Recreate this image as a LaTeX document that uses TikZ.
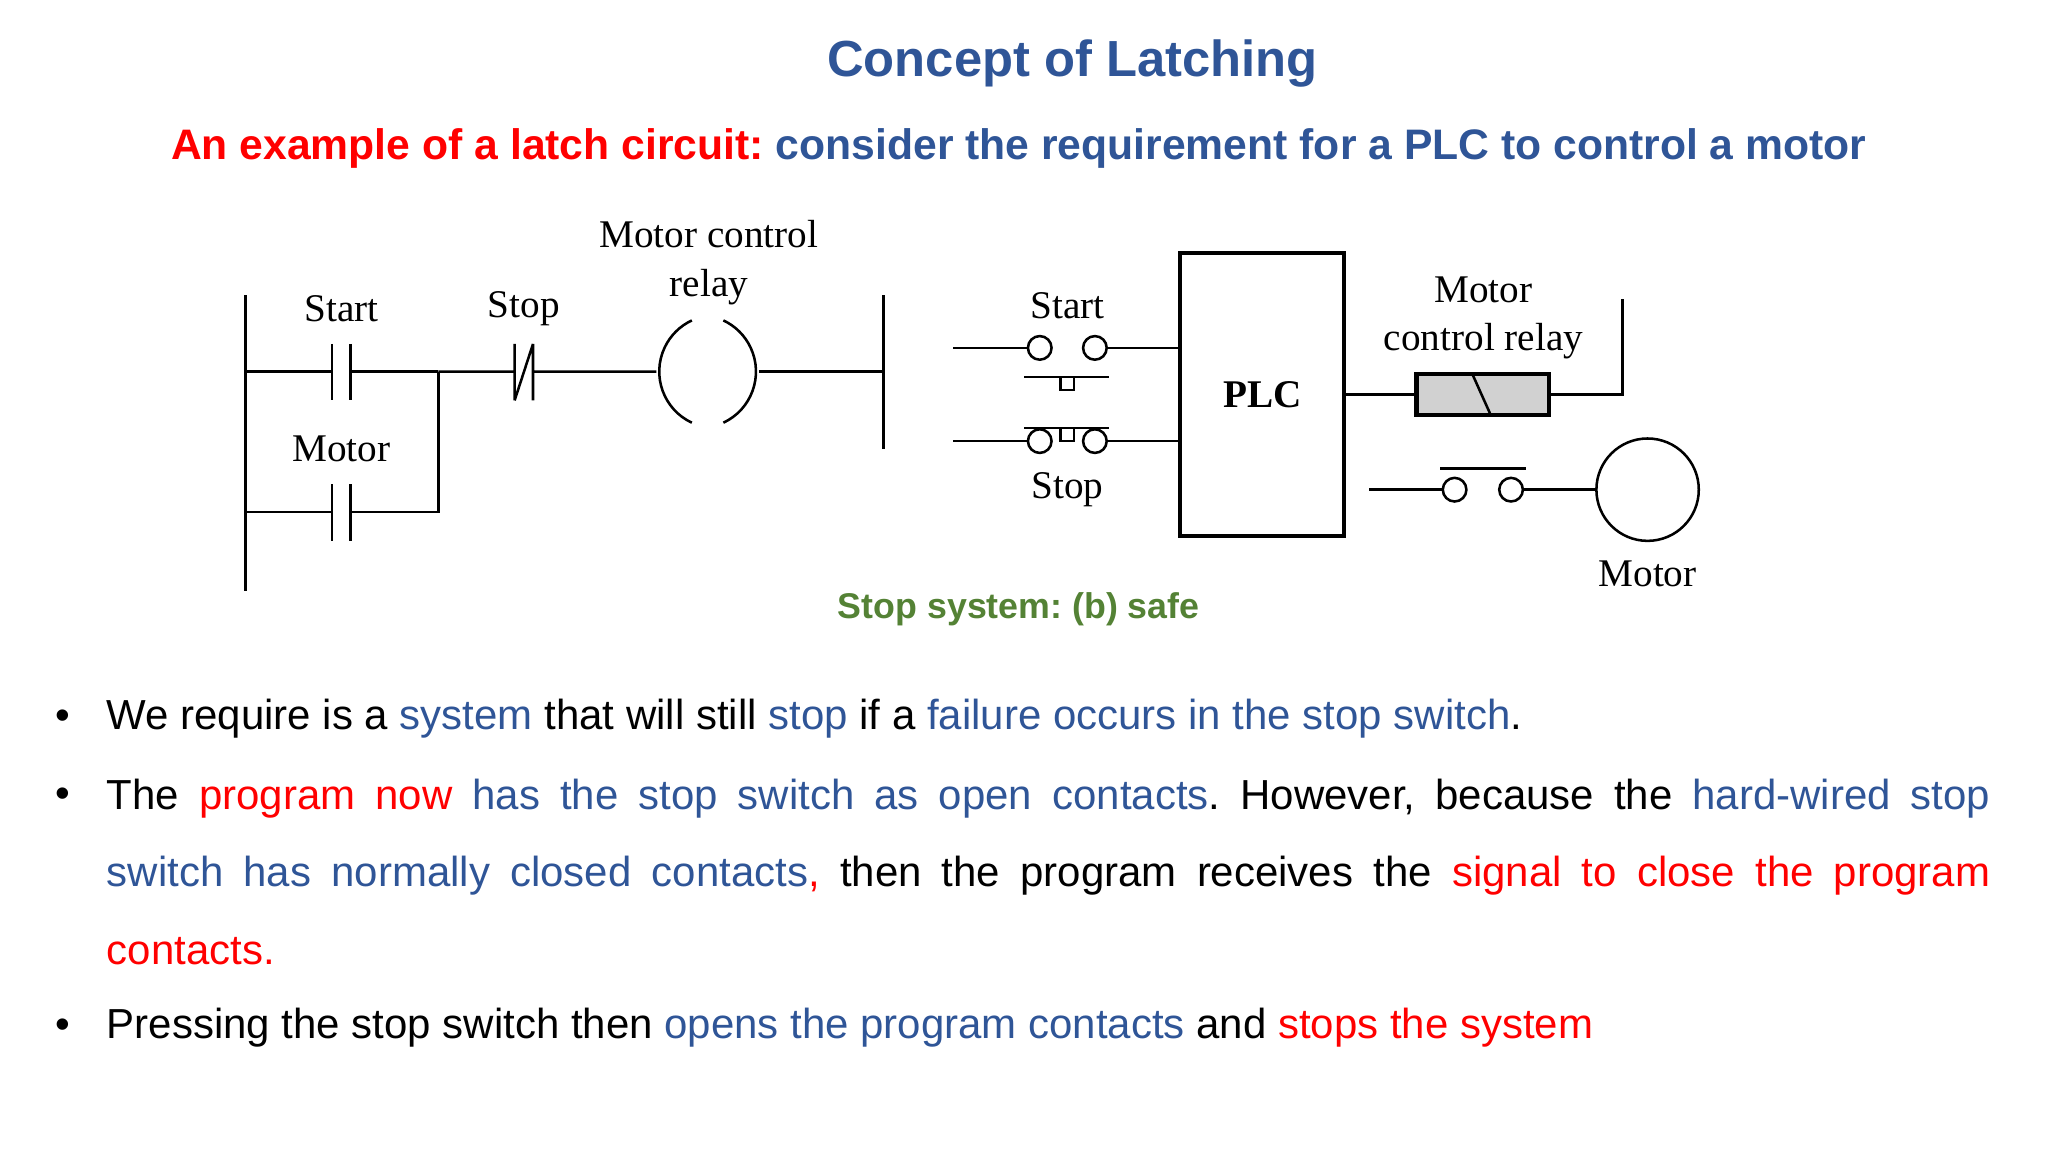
\documentclass[tikz,border=0pt]{standalone}
\usepackage{fontspec}
\setmainfont{Liberation Sans}
\newfontfamily\diagfont{Liberation Serif}
\definecolor{slideblue}{RGB}{47,85,151}
\definecolor{slidegreen}{RGB}{84,130,53}
\frenchspacing
\tikzset{
  wire/.style={line width=1.1pt},
  lbl/.style={font=\diagfont\fontsize{17}{19}\selectfont, inner sep=0pt},
  term/.style={circle, draw, line width=1.1pt, minimum size=0.36cm, inner sep=0pt},
  body/.style={font=\fontsize{18.2}{33.6}\selectfont, inner sep=0pt, anchor=base west}
}
\begin{document}
\begin{tikzpicture}[x=0.02cm, y=-0.02cm]
    \useasboundingbox (0,0) rectangle (1560,878);

    % titres
    \node[text=slideblue, font=\bfseries\fontsize{22}{26}\selectfont] (title) at (817,48) {Concept of Latching};
    \node[font=\bfseries\fontsize{18.5}{22}\selectfont] (sub) at (776,113)
        {\textcolor{red}{An example of a latch circuit:} \textcolor{slideblue}{consider the requirement for a PLC to control a motor}};

    % schema a contacts
    \coordinate (lrtop) at (187,225); \coordinate (lrbot) at (187,450);
    \coordinate (rrtop) at (673,225); \coordinate (rrbot) at (673,342);
    \coordinate (r1) at (187,283); \coordinate (r2) at (187,390);
    \coordinate (jn) at (334,283); \coordinate (jb) at (334,390);
    \coordinate (rr1) at (673,283);
    \draw[wire] (lrtop) -- (lrbot);
    \draw[wire] (rrtop) -- (rrbot);
    % contact start
    \draw[wire] (r1) -- (253,283) (253,262) -- (253,305) (267,262) -- (267,305) (267,283) -- (jn);
    % contact moteur
    \draw[wire] (r2) -- (253,390) (253,369) -- (253,412) (267,369) -- (267,412) (267,390) -- (jb) -- (jn);
    % contact stop
    \draw[wire] (jn) -- (392,283) (392,262) -- (392,305) (406,262) -- (406,305) (392,305) -- (406,262) (406,283) -- (500,283);
    % bobine
    \draw[wire] (527,322) arc (115:245:43) (551,322) arc (65:-65:43);
    \draw[wire] (578,283) -- (rr1);
    \node[lbl] (lstart) at (260,235) {Start};
    \node[lbl] (lstop) at (399,235) {Stop};
    \node[lbl] (lmotor) at (260,342) {Motor};
    \node[lbl, align=center] (lcoil) at (540,200) {Motor control\\[2pt]relay};

    % cablage PLC
    \node[draw, line width=1.8pt, minimum width=2.5cm, minimum height=4.3cm, font=\diagfont\bfseries\fontsize{17}{20}\selectfont] (plc) at (961.5,300.5) {PLC};
    \node[term] (sa) at (792,265) {}; \node[term] (sb) at (834,265) {};
    \node[term] (pa) at (792,336) {}; \node[term] (pb) at (834,336) {};
    \coordinate (sin) at (726,265); \coordinate (pin) at (726,336);
    \draw[wire] (sin) -- (sa); \draw[wire] (sb) -- (sb -| plc.west);
    \draw[wire] (pin) -- (pa); \draw[wire] (pb) -- (pb -| plc.west);
    \draw[wire] (780,287) -- (845,287) (808,287) rectangle (818,297);
    \draw[wire] (780,326) -- (845,326) (808,326) rectangle (818,336);
    \node[lbl] (bstart) at (813,233) {Start};
    \node[lbl] (bstop) at (813,373) {Stop};

    % relais
    \node[draw, line width=1.8pt, fill=black!18, minimum width=2.02cm, minimum height=0.62cm] (relay) at (1129.5,300.5) {};
    \draw[wire] (1122,286) -- (1135,315);
    \coordinate (rtop) at (1236,228);
    \draw[wire] (plc.east |- relay) -- (relay.west);
    \draw[wire] (relay.east) -| (rtop);
    \node[lbl, align=center] (lrelay) at (1130,242) {Motor\\[2pt]control relay};

    % moteur
    \node[term] (ma) at (1108,373) {}; \node[term] (mb) at (1151,373) {};
    \node[circle, draw, line width=1.1pt, minimum size=1.56cm] (motor) at (1255,373) {};
    \coordinate (min) at (1043,373);
    \draw[wire] (min) -- (ma); \draw[wire] (mb) -- (motor);
    \draw[wire] (1097,357) -- (1162,357);
    \node[lbl] (lmot) at (1255,437) {Motor};

    \node[text=slidegreen, font=\bfseries\fontsize{15.5}{18}\selectfont] (cap) at (776,464) {Stop system: (b) safe};

    % puces
    \node[body] (b1) at (81,556) {We require is a \textcolor{slideblue}{system} that will still \textcolor{slideblue}{stop} if a \textcolor{slideblue}{failure occurs in the stop switch}.};
    \node[body, text width=28.7cm, align=justify, anchor=north west] (b2) at (81,593)
        {The \textcolor{red}{program now} \textcolor{slideblue}{has the stop switch as open contacts}. However, because the \textcolor{slideblue}{hard-wired stop}\linebreak
         \textcolor{slideblue}{switch has normally closed contacts}\textcolor{red}{,} then the program receives the \textcolor{red}{signal to close the program}\linebreak
         \textcolor{red}{contacts.}};
    \node[body] (b3) at (81,791) {Pressing the stop switch then \textcolor{slideblue}{opens the program contacts} and \textcolor{red}{stops the system}};
    \foreach \y in {556,615,791}
        \node[body, anchor=base] at (48,\y) {\textbullet};
\end{tikzpicture}
\end{document}
